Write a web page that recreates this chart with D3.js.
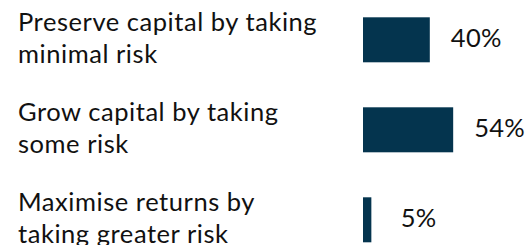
<!DOCTYPE html>
<html>
<head>
<meta charset="utf-8">
<script src="https://cdn.jsdelivr.net/npm/d3@7"></script>
<style>
  body { margin: 0; background: #fff; }
  text { font-family: Lato, sans-serif; fill: #111; }
</style>
</head>
<body>
<div id="container"></div>
<script>
const w = 529;
const h = 245;

const categories = [
  ['Preserve capital by taking', 'minimal risk'],
  ['Grow capital by taking', 'some risk'],
  ['Maximise returns by', 'taking greater risk']
];
const values = [40, 54, 5];
const valueLabels = ['40%', '54%', '5%'];

const svg = d3.select('#container')
  .append('svg')
  .attr('width', w)
  .attr('height', h);

const x = d3.scaleLinear()
  .domain([0, 100])
  .range([363, 530]);

const y = d3.scaleBand()
  .domain(d3.range(values.length))
  .range([-5.2, 264.8])
  .paddingInner(0.5)
  .paddingOuter(0.25);

const rows = svg.selectAll('g.row')
  .data(values)
  .join('g')
  .attr('class', 'row');

rows.append('rect')
  .attr('x', x(0))
  .attr('y', (d, i) => y(i))
  .attr('width', d => x(d) - x(0))
  .attr('height', y.bandwidth())
  .attr('fill', '#04344e');

rows.append('text')
  .attr('class', 'val')
  .attr('x', d => Math.max(x(d), x(10)) + 21)
  .attr('y', (d, i) => y(i) + y.bandwidth() / 2 + 7)
  .attr('font-size', 25.5)
  .attr('letter-spacing', 0.3)
  .text((d, i) => valueLabels[i]);

rows.append('text')
  .attr('class', 'cat')
  .attr('x', 18)
  .attr('y', (d, i) => y(i) + y.bandwidth() / 2 - 9)
  .attr('font-size', 25.5)
  .attr('letter-spacing', 0.55)
  .selectAll('tspan')
  .data((d, i) => categories[i])
  .join('tspan')
    .attr('x', 18)
    .attr('dy', (t, j) => j === 0 ? 0 : 32)
    .text(t => t);
</script>
</body>
</html>
